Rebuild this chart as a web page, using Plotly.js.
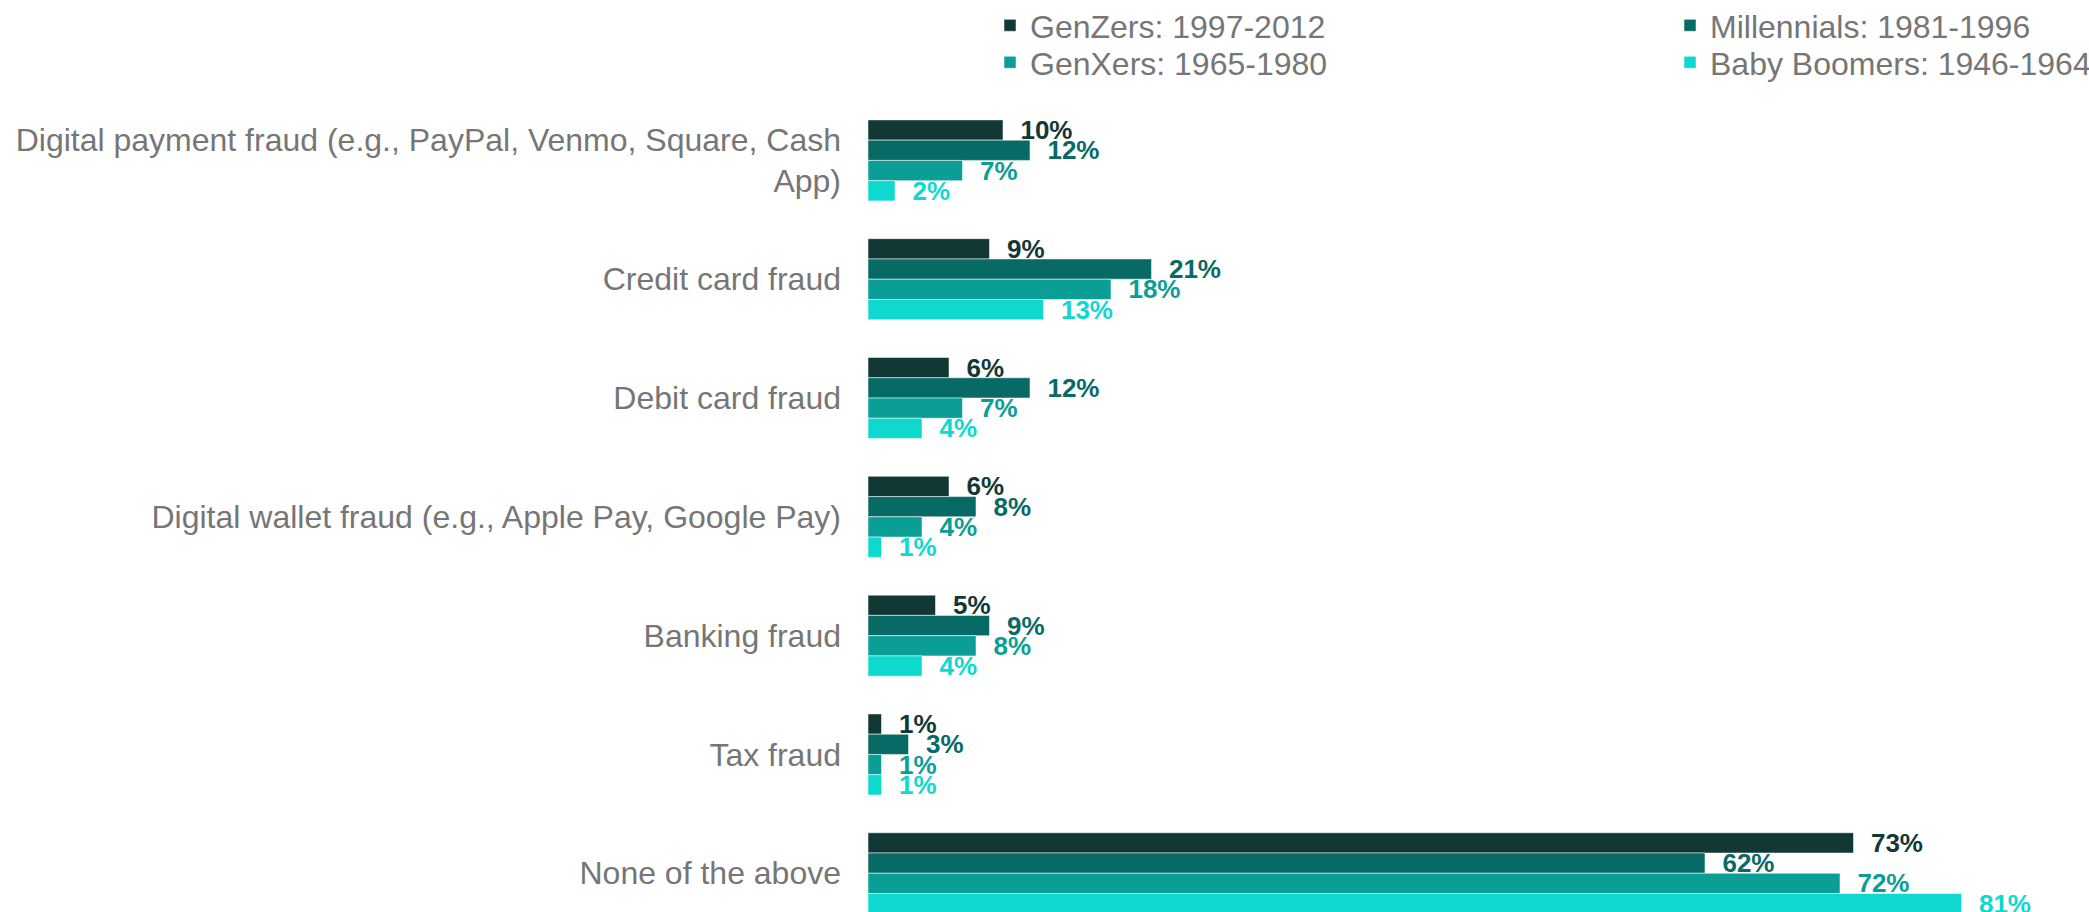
<!DOCTYPE html>
<html><head><meta charset="utf-8">
<script src="https://cdn.plot.ly/plotly-3.0.1.min.js"></script>
<style>html,body{margin:0;padding:0;background:#fff}#chart{width:2089px;height:912px}</style>
</head><body><div id="chart"></div>
<script>
const categories = [
  "Digital payment fraud (e.g., PayPal, Venmo, Square, Cash<br>App)",
  "Credit card fraud",
  "Debit card fraud",
  "Digital wallet fraud (e.g., Apple Pay, Google Pay)",
  "Banking fraud",
  "Tax fraud",
  "None of the above"
];
const seriesNames = ["GenZers: 1997-2012", "Millennials: 1981-1996", "GenXers: 1965-1980", "Baby Boomers: 1946-1964"];
const genZers     = [10, 9, 6, 6, 5, 1, 73];
const millennials = [12, 21, 12, 8, 9, 3, 62];
const genXers     = [7, 18, 7, 4, 8, 1, 72];
const boomers     = [2, 13, 4, 1, 4, 1, 81];
const colors = ["#123835", "#086a64", "#0b9e97", "#0fd8ce"];
const legendIds = ["legend", "legend2", "legend3", "legend4"];

const FONT = '"Liberation Sans", Arial, sans-serif';
const GRAY = '#767676';

const values = [genZers, millennials, genXers, boomers];
const traces = values.map((v, i) => ({
  type: 'bar',
  orientation: 'h',
  name: seriesNames[i],
  x: v,
  y: categories,
  marker: {color: colors[i], line: {color: 'rgba(255,255,255,0.5)', width: 1}},
  texttemplate: '\u00a0\u00a0%{x}%',
  textposition: 'outside',
  constraintext: 'none',
  cliponaxis: false,
  textfont: {family: FONT, size: 26, color: colors[i], weight: 'bold'},
  legend: legendIds[i],
  hoverinfo: 'skip'
}));

// legend placement (paper coordinates of the plot area: x from 868px, width 1215px; top at 101px, height 811px)
const colX = [(990 - 868) / 1215, (1670 - 868) / 1215];
const rowY = [1 + 103 / 811, 1 + 66 / 811];
function legendAt(col, row) {
  return {
    orientation: 'h',
    xanchor: 'left',
    yanchor: 'top',
    x: colX[col],
    y: rowY[row],
    font: {family: FONT, size: 32, color: GRAY},
    bgcolor: 'rgba(0,0,0,0)',
    borderwidth: 0
  };
}

const layout = {
  width: 2089,
  height: 912,
  paper_bgcolor: '#ffffff',
  plot_bgcolor: '#ffffff',
  font: {family: FONT, color: GRAY},
  barmode: 'group',
  bargap: 0.318,
  bargroupgap: 0,
  margin: {l: 868, r: 6, t: 101, b: 0, autoexpand: false},
  showlegend: true,
  legend: legendAt(0, 0),
  legend2: legendAt(1, 0),
  legend3: legendAt(0, 1),
  legend4: legendAt(1, 1),
  xaxis: {range: [0, 90], visible: false, fixedrange: true},
  yaxis: {
    type: 'category',
    range: [6.326, -0.5],
    showgrid: false, zeroline: false, showline: false,
    ticks: '',
    ticklabelstandoff: 26,
    tickfont: {family: FONT, size: 32, color: GRAY},
    automargin: false,
    fixedrange: true
  },
  hovermode: false
};

Plotly.newPlot('chart', traces, layout, {staticPlot: true, displayModeBar: false});
</script>
</body></html>
